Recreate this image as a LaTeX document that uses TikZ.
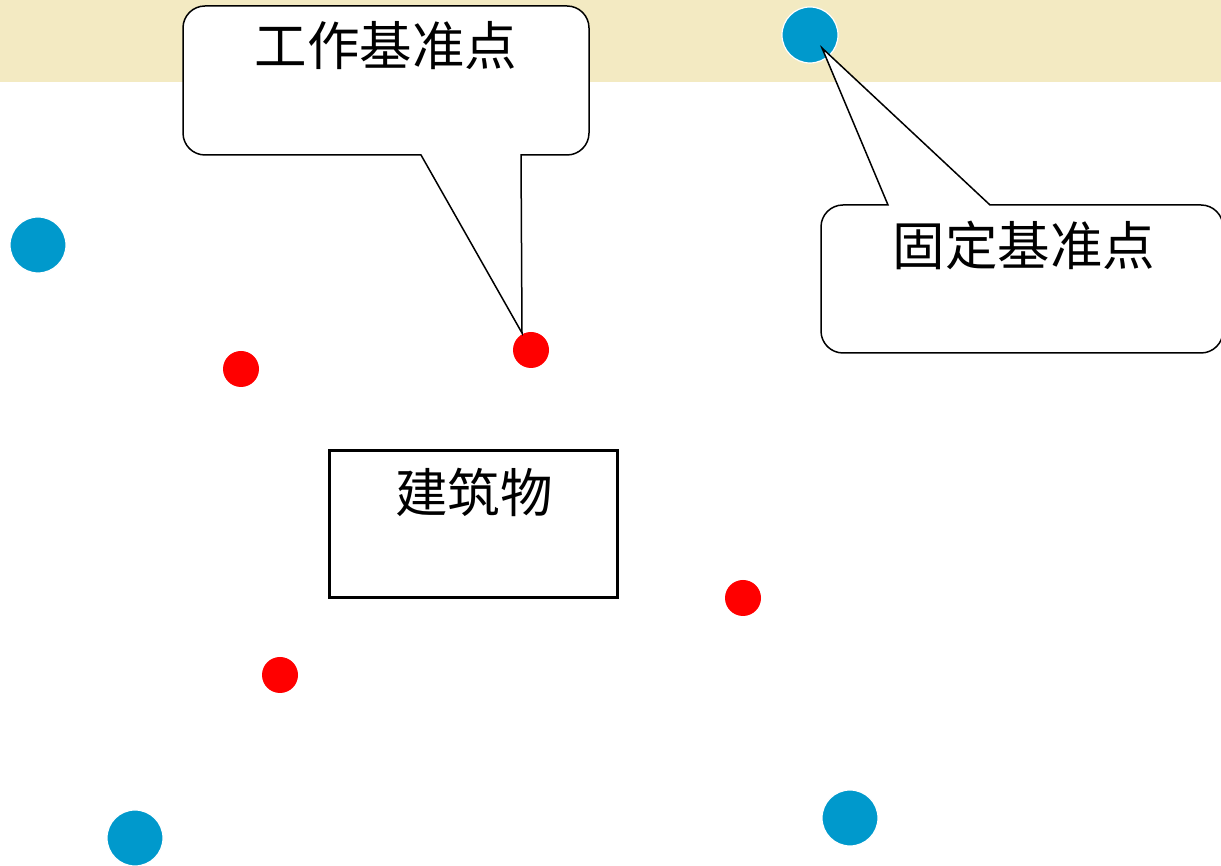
\documentclass[tikz,border=0pt]{standalone}
\usepackage{fontspec}
\newfontfamily\cjk{Noto Sans CJK SC}
\definecolor{bandcol}{RGB}{243,234,194}
\definecolor{bluedotcol}{RGB}{0,153,204}
\definecolor{reddotcol}{RGB}{255,0,0}
\begin{document}
\begin{tikzpicture}[x=1pt,y=1pt,
  bluedot/.style={circle,fill=bluedotcol,draw=white,line width=1.2pt,minimum size=56pt,inner sep=0pt},
  reddot/.style={circle,fill=reddotcol,minimum size=36pt,inner sep=0pt},
  callout/.style={draw=black,fill=white,line width=1.5pt,line join=miter},
  label/.style={font=\cjk\fontsize{52.5}{58}\selectfont,inner sep=0pt}]
\useasboundingbox (0,0) rectangle (1221,866);
\fill[white] (0,0) rectangle (1221,866);
\fill[bandcol] (0,784) rectangle (1221,866);
% fixed reference points
\node[bluedot] (f1) at (810,831) {};
\node[bluedot] (f2) at (38,621) {};
\node[bluedot] (f3) at (135,28) {};
\node[bluedot] (f4) at (850,48) {};
% working reference points
\node[reddot] (w1) at (531,516) {};
\node[reddot] (w2) at (241,497) {};
\node[reddot] (w3) at (743,268) {};
\node[reddot] (w4) at (280,191) {};
% building
\node[draw=black,line width=3pt,minimum width=288pt,minimum height=147pt,inner sep=0pt] (bld) at (473,341.5) {};
\node[label] (bldtxt) at (474,374) {建筑物};
% callout 1
\coordinate (t1) at (522,533);
\draw[callout] (421,711) -- (t1) -- (521,711) -- (567,711)
  arc[start angle=-90,end angle=0,radius=22pt] -- (589,838)
  arc[start angle=0,end angle=90,radius=22pt] -- (205,860)
  arc[start angle=90,end angle=180,radius=22pt] -- (183,733)
  arc[start angle=180,end angle=270,radius=22pt] -- cycle;
\node[label] (c1txt) at (386,820) {工作基准点};
% callout 2
\coordinate (t2) at (822,818);
\draw[callout] (990,661) -- (t2) -- (888,661) -- (843,661)
  arc[start angle=90,end angle=180,radius=22pt] -- (821,535)
  arc[start angle=180,end angle=270,radius=22pt] -- (1201,513)
  arc[start angle=270,end angle=360,radius=22pt] -- (1223,639)
  arc[start angle=0,end angle=90,radius=22pt] -- cycle;
\node[label] (c2txt) at (1024,621) {固定基准点};
\end{tikzpicture}
\end{document}
